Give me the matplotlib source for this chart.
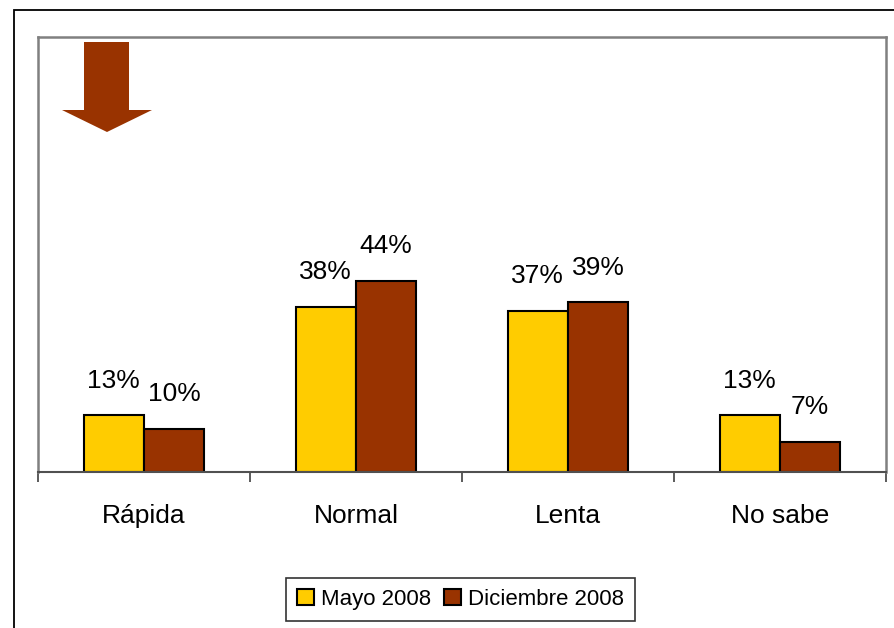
import matplotlib
matplotlib.use("Agg")
import matplotlib.pyplot as plt
from matplotlib.patches import Rectangle, Polygon
import numpy as np

plt.rcParams['font.family'] = ['Liberation Sans', 'DejaVu Sans']

categories = ["Rápida", "Normal", "Lenta", "No sabe"]
series_names = ["Mayo 2008", "Diciembre 2008"]
mayo = [13, 38, 37, 13]
diciembre = [10, 44, 39, 7]
colors = ["#FFCC00", "#993300"]

W, H = 894, 628
fig = plt.figure(figsize=(W / 100, H / 100), dpi=100)

# outer chart-area border
fig.patches.append(Rectangle((14 / W, 1 - 700 / H), 1000 / W, (700 - 10) / H,
                             transform=fig.transFigure, fill=False,
                             edgecolor="black", linewidth=1.3, zorder=0))

ax = fig.add_axes([38 / W, 1 - 472 / H, (886 - 38) / W, (472 - 37) / H])
x = np.arange(len(categories))
bw = 0.285
b1 = ax.bar(x - bw / 2, mayo, bw, color=colors[0], edgecolor="black", linewidth=1.5, label=series_names[0])
b2 = ax.bar(x + bw / 2, diciembre, bw, color=colors[1], edgecolor="black", linewidth=1.5, label=series_names[1])

for bars, vals in ((b1, mayo), (b2, diciembre)):
    for rect, v in zip(bars, vals):
        ax.annotate(f"{v}%", (rect.get_x() + rect.get_width() / 2, rect.get_height()),
                    xytext=(0, 20), textcoords="offset points", ha="center", va="baseline",
                    fontsize=19, color="black")

ax.set_xlim(-0.5, len(categories) - 0.5)
ax.set_ylim(0, 100)
ax.set_yticks([])
ax.set_xticks(np.arange(-0.5, len(categories), 1.0))
ax.set_xticklabels([])
ax.set_xticks(x, minor=True)
ax.set_xticklabels(categories, minor=True, fontsize=19)
ax.tick_params(axis="x", which="major", length=7, width=1.2, color="#404040", direction="out")
ax.tick_params(axis="x", which="minor", length=0, pad=23)
for s in ("left", "top", "right"):
    ax.spines[s].set_color("#808080")
    ax.spines[s].set_linewidth(1.8)
ax.spines["bottom"].set_color("#505050")
ax.spines["bottom"].set_linewidth(1.5)

# decorative arrow
pts = [(84, 42), (129, 42), (129, 110), (152, 110), (107, 132), (62, 110), (84, 110)]
fig.patches.append(Polygon([(px / W, 1 - py / H) for px, py in pts], closed=True,
                           transform=fig.transFigure, facecolor="#993300", edgecolor="none", zorder=5))

leg = fig.legend(handles=[b1, b2], labels=series_names, loc="center",
                 bbox_to_anchor=((288 + 633) / 2 / W, 1 - (577 + 622) / 2 / H),
                 ncol=2, frameon=True, fancybox=False, fontsize=16,
                 handlelength=0.75, handleheight=0.75, handletextpad=0.3,
                 columnspacing=0.6, borderpad=0.5)
leg.get_frame().set_edgecolor("black")
leg.get_frame().set_linewidth(1.2)

fig.savefig("out.png", dpi=100)
